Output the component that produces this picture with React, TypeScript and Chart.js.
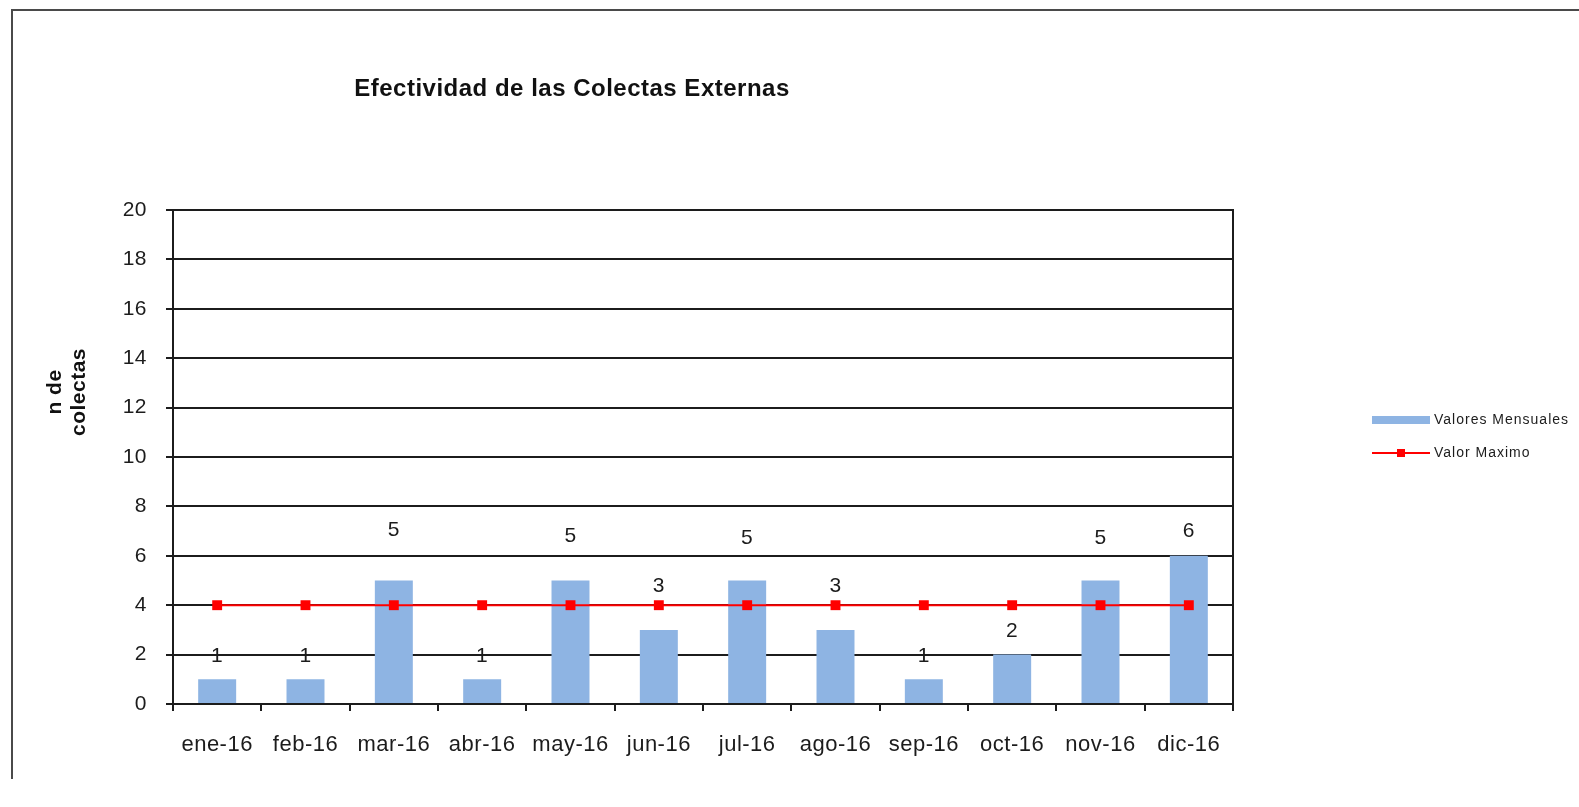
import { useEffect, useRef } from "react";
import { Chart, registerables } from "chart.js";

Chart.register(...registerables);

// Months shown on the category axis
const months = [
  "ene-16", "feb-16", "mar-16", "abr-16", "may-16", "jun-16",
  "jul-16", "ago-16", "sep-16", "oct-16", "nov-16", "dic-16",
];

// Number of external collections per month
const monthlyValues = [1, 1, 5, 1, 5, 3, 5, 3, 1, 2, 5, 6];

// Maximum reference value per month
const maxValues = [4, 4, 4, 4, 4, 4, 4, 4, 4, 4, 4, 4];

// Value axis range
const yMin = 0;
const yMax = 20;
const yStep = 2;

// How far (px) each value label sits above its bar top
const labelLift = [23, 23, 50, 23, 44, 44, 42, 44, 23, 23, 42, 25];

const chartTitle = "Efectividad de las Colectas Externas";
const yTitleLines = ["n de", "colectas"];

const FONT = '"Liberation Sans", Arial, Helvetica, sans-serif';
const INK = "#1c1c1c";
const BAR_BLUE = "rgb(142, 180, 227)";
const LINE_RED = "#ff0000";
const SPACING = "0.5px";

const decorations = {
  id: "decorations",
  beforeLayout(chart: any) {
    chart.ctx.letterSpacing = SPACING;
  },
  beforeDraw(chart: any) {
    chart.ctx.letterSpacing = SPACING;
  },
  afterDraw(chart: any) {
    const { ctx, chartArea } = chart;
    ctx.save();
    ctx.letterSpacing = SPACING;

    // right edge of the plot frame
    ctx.strokeStyle = INK;
    ctx.lineWidth = 2;
    ctx.beginPath();
    ctx.moveTo(chartArea.right, chartArea.top - 1);
    ctx.lineTo(chartArea.right, chartArea.bottom + 7);
    ctx.stroke();

    // value labels above bars
    const barMeta = chart.getDatasetMeta(0);
    ctx.font = `21px ${FONT}`;
    ctx.fillStyle = INK;
    ctx.textAlign = "center";
    ctx.textBaseline = "middle";
    barMeta.data.forEach((bar: any, i: number) => {
      ctx.fillText(String(monthlyValues[i]), bar.x, bar.y - labelLift[i]);
    });

    // chart title
    ctx.font = `bold 24px ${FONT}`;
    ctx.fillStyle = "#111";
    ctx.fillText(chartTitle, 572, 89);

    // value axis title, rotated
    ctx.save();
    ctx.translate(67, 392);
    ctx.rotate(-Math.PI / 2);
    ctx.font = `bold 21px ${FONT}`;
    yTitleLines.forEach((line, i) => {
      ctx.fillText(line, 0, -12 + i * 24);
    });
    ctx.restore();

    // legend
    const [bars, line] = chart.data.datasets;
    ctx.textAlign = "left";
    ctx.letterSpacing = "1px";
    ctx.font = `14px ${FONT}`;
    ctx.fillStyle = bars.backgroundColor;
    ctx.fillRect(1372, 416, 58, 8);
    ctx.fillStyle = INK;
    ctx.fillText(bars.label, 1434, 420);

    ctx.strokeStyle = line.borderColor;
    ctx.lineWidth = 2;
    ctx.beginPath();
    ctx.moveTo(1372, 453);
    ctx.lineTo(1430, 453);
    ctx.stroke();
    ctx.fillStyle = line.pointBackgroundColor;
    ctx.fillRect(1397, 449, 8, 8);
    ctx.fillStyle = INK;
    ctx.fillText(line.label, 1434, 453);

    ctx.restore();
  },
};

export default function App() {
  const canvasRef = useRef<HTMLCanvasElement | null>(null);

  useEffect(() => {
    const canvas = canvasRef.current;
    if (!canvas) return;
    const chart = new Chart(canvas, {
      type: "bar",
      data: {
        labels: months,
        datasets: [
          {
            type: "bar",
            label: "Valores Mensuales",
            data: monthlyValues,
            backgroundColor: BAR_BLUE,
            borderWidth: 0,
            barPercentage: 0.43,
            categoryPercentage: 1,
            order: 2,
          },
          {
            type: "line",
            label: "Valor Maximo",
            data: maxValues,
            borderColor: LINE_RED,
            borderWidth: 2,
            pointStyle: "rect",
            pointRadius: 7,
            pointBorderWidth: 0,
            pointBackgroundColor: LINE_RED,
            pointBorderColor: LINE_RED,
            fill: false,
            tension: 0,
            order: 1,
          } as any,
        ],
      },
      options: {
        responsive: false,
        animation: false,
        devicePixelRatio: 1,
        layout: { padding: { top: 210, left: 0, right: 346, bottom: 43 } },
        plugins: {
          legend: { display: false },
          title: { display: false },
          tooltip: { enabled: false },
        },
        scales: {
          x: {
            z: 1,
            offset: true,
            grid: {
              offset: true,
              drawOnChartArea: false,
              drawTicks: true,
              tickLength: 7,
              color: INK,
              lineWidth: 2,
            },
            border: { display: true, color: INK, width: 2 },
            ticks: {
              color: INK,
              font: { family: FONT, size: 22 },
              padding: 21,
              maxRotation: 0,
              autoSkip: false,
            },
            afterFit(scale: any) {
              scale.height = 60;
            },
          },
          y: {
            min: yMin,
            max: yMax,
            grid: {
              drawTicks: true,
              tickLength: 7,
              color: INK,
              lineWidth: 2,
            },
            border: { display: true, color: INK, width: 2 },
            ticks: {
              stepSize: yStep,
              color: INK,
              font: { family: FONT, size: 21 },
              padding: 19,
            },
            afterFit(scale: any) {
              scale.width = 173;
            },
          },
        },
      },
      plugins: [decorations],
    });
    return () => chart.destroy();
  }, []);

  return (
    <div
      style={{
        position: "absolute",
        left: 0,
        top: 0,
        width: 1579,
        height: 807,
        background: "#fff",
        overflow: "hidden",
      }}
    >
      <div
        style={{
          position: "absolute",
          left: 11,
          top: 9,
          width: 1580,
          height: 768,
          borderTop: "2px solid #4a4a4a",
          borderLeft: "2px solid #4a4a4a",
        }}
      />
      <canvas
        ref={canvasRef}
        width={1579}
        height={807}
        style={{ position: "absolute", left: 0, top: 0 }}
      />
    </div>
  );
}
